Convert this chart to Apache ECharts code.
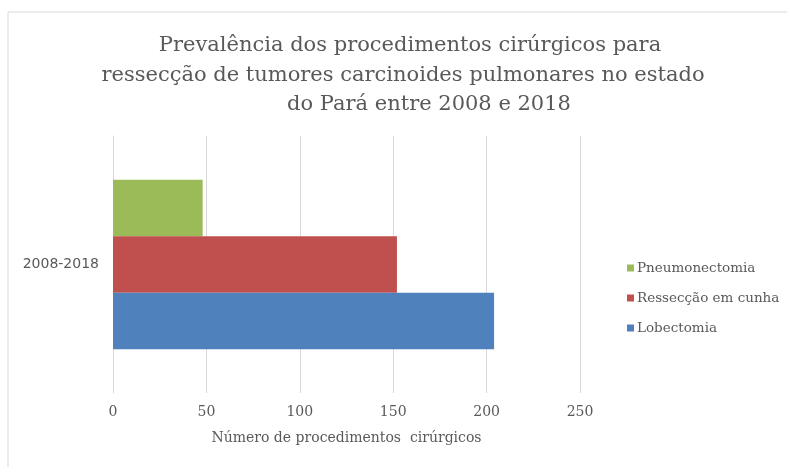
<!DOCTYPE html>
<html>
<head>
<meta charset="utf-8">
<script src="https://cdn.jsdelivr.net/npm/echarts@6/dist/echarts.min.js"></script>
<style>
  html, body { margin: 0; padding: 0; background: #fff; }
  #chart { width: 787px; height: 467px; }
</style>
</head>
<body>
<div id="chart"></div>
<script>
// Surgical procedures for pulmonary carcinoid tumours, Pará 2008-2018
const categories = ['2008-2018'];
const lobectomia = [204];
const resseccaoEmCunha = [152];
const pneumonectomia = [48];
const legendOrder = ['Pneumonectomia', 'Ressecção em cunha', 'Lobectomia'];
const titleLines = [
  'Prevalência dos procedimentos cirúrgicos para',
  'ressecção de tumores carcinoides pulmonares no estado',
  'do Pará entre 2008 e 2018'
];
const xTicks = { min: 0, max: 250, interval: 50 };

const serif = '"DejaVu Serif", serif';
const grey = '#595959';

const chart = echarts.init(document.getElementById('chart'));
chart.setOption({
  animation: false,
  title: [
    { text: titleLines[0], left: 405, top: 30, textAlign: 'center',
      textStyle: { fontFamily: serif, fontSize: 21, fontWeight: 'normal', color: grey } },
    { text: titleLines[1], left: 398, top: 60, textAlign: 'center',
      textStyle: { fontFamily: serif, fontSize: 21, fontWeight: 'normal', color: grey } },
    { text: titleLines[2], left: 424, top: 89, textAlign: 'center',
      textStyle: { fontFamily: serif, fontSize: 21, fontWeight: 'normal', color: grey } }
  ],
  graphic: [
    { type: 'polyline', shape: { points: [[8, 467], [8, 12], [787, 12]] },
      style: { stroke: '#d9d9d9', lineWidth: 1, fill: null } }
  ],
  legend: {
    orient: 'vertical',
    left: 622,
    top: 256,
    itemWidth: 7,
    itemHeight: 7,
    itemGap: 16,
    icon: 'rect',
    data: legendOrder,
    textStyle: { fontFamily: serif, fontSize: 13.5, color: grey, padding: [0, 0, 0, -2] }
  },
  grid: { left: 113, right: 207, top: 136, bottom: 74, containLabel: false },
  xAxis: {
    type: 'value',
    min: xTicks.min, max: xTicks.max, interval: xTicks.interval,
    name: 'Número de procedimentos  cirúrgicos',
    nameLocation: 'middle',
    nameGap: 38,
    nameTextStyle: { fontFamily: serif, fontSize: 14, color: grey },
    axisLine: { show: false },
    axisTick: { show: false },
    axisLabel: { fontFamily: serif, fontSize: 14, color: grey, margin: 12 },
    splitLine: { lineStyle: { color: '#d9d9d9', width: 1 } }
  },
  yAxis: {
    type: 'category',
    data: categories,
    axisLine: { show: true, lineStyle: { color: '#d9d9d9' } },
    axisTick: { show: false },
    axisLabel: { fontFamily: '"DejaVu Sans", sans-serif', fontSize: 14, color: grey, margin: 14 }
  },
  series: [
    { name: 'Pneumonectomia', type: 'bar', data: pneumonectomia, barGap: '0%', barCategoryGap: '34%',
      itemStyle: { color: '#9BBB59' } },
    { name: 'Ressecção em cunha', type: 'bar', data: resseccaoEmCunha, barGap: '0%', barCategoryGap: '34%',
      itemStyle: { color: '#C0504D' } },
    { name: 'Lobectomia', type: 'bar', data: lobectomia, barGap: '0%', barCategoryGap: '34%',
      itemStyle: { color: '#4F81BD' } }
  ]
});
</script>
</body>
</html>
